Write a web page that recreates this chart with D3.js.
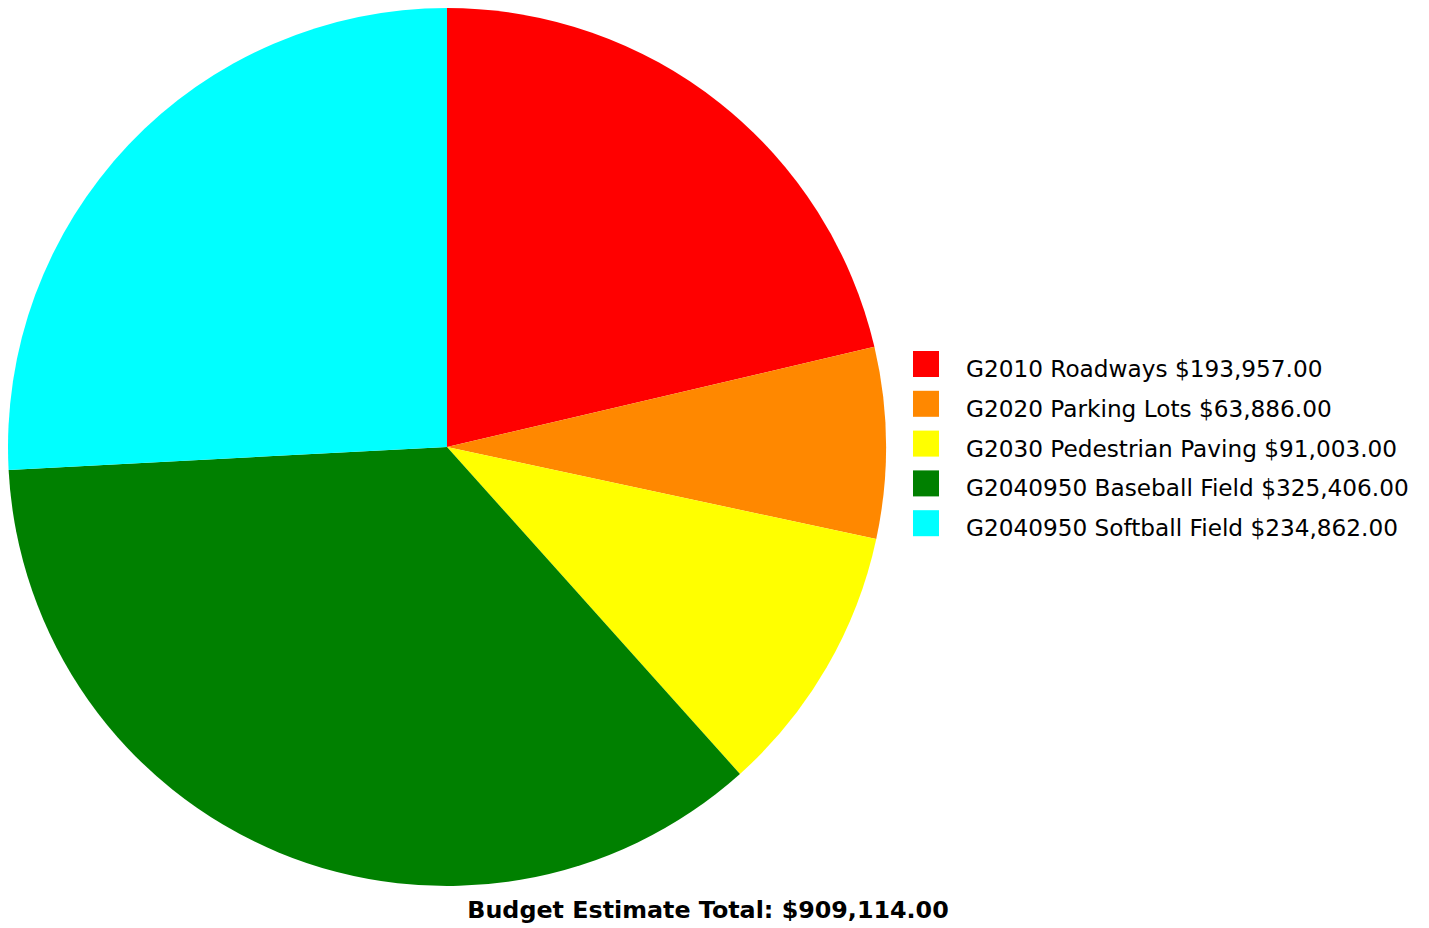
<!DOCTYPE html>
<html>
<head>
<meta charset="utf-8">
<script src="https://cdn.jsdelivr.net/npm/d3@7"></script>
<style>
  html, body { margin: 0; padding: 0; background: #ffffff; }
  svg { display: block; }
</style>
</head>
<body>
<svg id="chart" width="1429" height="928"></svg>
<script>
// Budget line items and their estimated costs
const categories = [
  "G2010 Roadways",
  "G2020 Parking Lots",
  "G2030 Pedestrian Paving",
  "G2040950 Baseball Field",
  "G2040950 Softball Field"
];
const values = [193957, 63886, 91003, 325406, 234862];
const colors = ["#ff0000", "#ff8800", "#ffff00", "#008000", "#00ffff"];
const totalLabel = "Budget Estimate Total:";

const svg = d3.select("#chart");
const cx = 447, cy = 447, radius = 439;

const money = v => "$" + d3.format(",.2f")(v);

const data = categories.map((c, i) => ({ name: c, value: values[i], color: colors[i] }));

const pie = d3.pie().value(d => d.value).sort(null);
const arc = d3.arc().innerRadius(0).outerRadius(radius);

svg.append("g")
  .attr("transform", `translate(${cx},${cy})`)
  .selectAll("path")
  .data(pie(data))
  .join("path")
  .attr("d", arc)
  .attr("fill", d => d.data.color);

// Legend
const legendY = d3.scaleBand().domain(categories).range([351, 550]).paddingInner(0);
const legend = svg.append("g");
const rows = legend.selectAll("g").data(data).join("g")
  .attr("transform", d => `translate(913,${legendY(d.name)})`);
rows.append("rect").attr("width", 26).attr("height", 26).attr("fill", d => d.color);
rows.append("text")
  .attr("x", 53).attr("y", 26)
  .attr("font-family", "DejaVu Sans, Verdana, sans-serif")
  .attr("font-size", 23.2)
  .attr("fill", "#000")
  .text(d => `${d.name} ${money(d.value)}`);

// Total caption
const total = d3.sum(values);
svg.append("text")
  .attr("x", 708).attr("y", 918)
  .attr("text-anchor", "middle")
  .attr("font-family", "DejaVu Sans, Verdana, sans-serif")
  .attr("font-weight", "bold")
  .attr("font-size", 23.8)
  .attr("fill", "#000")
  .text(`${totalLabel} ${money(total)}`);
</script>
</body>
</html>
